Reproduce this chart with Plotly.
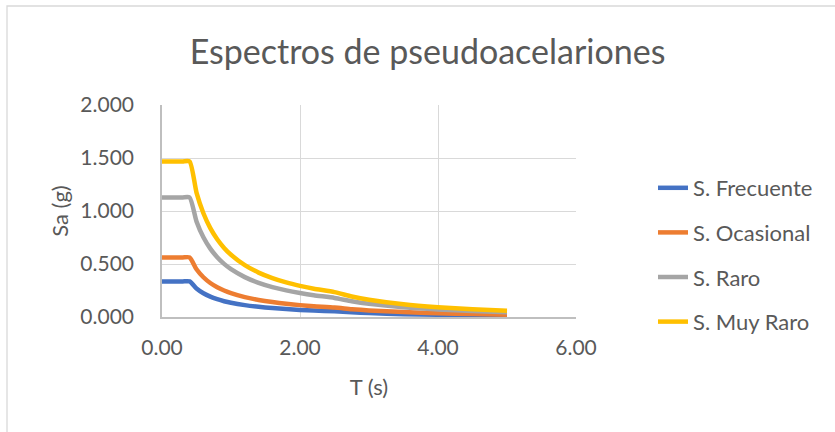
import plotly.graph_objects as go

T = [0.0, 0.1, 0.2, 0.3, 0.4, 0.5, 0.6, 0.7, 0.8, 0.9, 1.0, 1.2, 1.4, 1.6, 1.8,
     2.0, 2.2, 2.5, 2.75, 3.0, 3.5, 4.0, 4.5, 5.0]

sa_frecuente = [0.336, 0.336, 0.336, 0.336, 0.336, 0.269, 0.224, 0.192, 0.168, 0.149,
                0.134, 0.112, 0.096, 0.084, 0.075, 0.067, 0.061, 0.054, 0.044, 0.037,
                0.027, 0.021, 0.017, 0.013]
sa_ocasional = [0.562, 0.562, 0.562, 0.562, 0.562, 0.450, 0.375, 0.321, 0.281, 0.250,
                0.225, 0.187, 0.161, 0.141, 0.125, 0.112, 0.102, 0.090, 0.074, 0.062,
                0.046, 0.035, 0.028, 0.022]
sa_raro = [1.128, 1.128, 1.128, 1.128, 1.128, 0.902, 0.752, 0.645, 0.564, 0.501,
           0.451, 0.376, 0.322, 0.282, 0.251, 0.226, 0.205, 0.180, 0.149, 0.125,
           0.092, 0.071, 0.056, 0.045]
sa_muy_raro = [1.468, 1.468, 1.468, 1.468, 1.468, 1.174, 0.979, 0.839, 0.734, 0.652,
               0.587, 0.489, 0.419, 0.367, 0.326, 0.294, 0.267, 0.235, 0.194, 0.163,
               0.120, 0.092, 0.072, 0.059]

series_names = ["S. Frecuente", "S. Ocasional", "S. Raro", "S. Muy Raro"]
series_values = [sa_frecuente, sa_ocasional, sa_raro, sa_muy_raro]
colors = ["#4472C4", "#ED7D31", "#A5A5A5", "#FFC000"]

x_ticks = [0, 2, 4, 6]
x_ticktext = ["0.00", "2.00", "4.00", "6.00"]
y_ticks = [0, 0.5, 1.0, 1.5, 2.0]
y_ticktext = ["0.000", "0.500", "1.000", "1.500", "2.000"]

FONT = "Lato"
GREY = "#595959"

fig = go.Figure()
for name, vals, col in zip(series_names, series_values, colors):
    fig.add_trace(go.Scatter(
        x=T, y=vals, name=name, mode="lines",
        line=dict(color=col, width=4.5, shape="spline", smoothing=0.6),
        legendgroup=name,
    ))

W, H = 835, 432
L, R, TOP, BOT = 162, 576, 105, 317
pw, ph = R - L, BOT - TOP

fig.update_layout(
    width=W, height=H,
    margin=dict(l=L, r=W - R, t=TOP, b=H - BOT, pad=0),
    paper_bgcolor="white", plot_bgcolor="white",
    font=dict(family=FONT, color=GREY, size=21),
    title=dict(text="Espectros de pseudoacelariones", x=0.512, xanchor="center",
               y=1 - 52 / H, yanchor="middle",
               font=dict(family=FONT, size=34, color=GREY)),
    showlegend=True,
    legend=dict(x=(653 - L) / pw, xanchor="left", y=(BOT - 255) / ph, yanchor="middle",
                font=dict(family=FONT, size=22, color=GREY),
                tracegroupgap=13, bgcolor="rgba(0,0,0,0)"),
    xaxis=dict(range=[0, 6], tickvals=x_ticks, ticktext=x_ticktext,
               showgrid=True, gridcolor="#d9d9d9", gridwidth=1.3,
               showline=True, linecolor="#bfbfbf", linewidth=1.5,
               zeroline=False, ticks="", ticklabelstandoff=11,
               tickfont=dict(family=FONT, size=21, color=GREY),
               title=dict(text="T (s)", font=dict(family=FONT, size=22, color=GREY),
                          standoff=22)),
    yaxis=dict(range=[0, 2], tickvals=y_ticks, ticktext=y_ticktext,
               showgrid=True, gridcolor="#d9d9d9", gridwidth=1.3,
               showline=True, linecolor="#bfbfbf", linewidth=1.5,
               zeroline=False, ticks="", ticklabelstandoff=22,
               tickfont=dict(family=FONT, size=21, color=GREY),
               title=dict(text="Sa (g)", font=dict(family=FONT, size=22, color=GREY),
                          standoff=6)),
)

# outer chart border (partially visible, as in the reference)
fig.add_shape(type="rect", xref="paper", yref="paper",
              x0=(7 - L) / pw, x1=(W + 10 - L) / pw,
              y0=(BOT - (H + 10)) / ph, y1=(BOT - 6) / ph,
              line=dict(color="#d9d9d9", width=1.3), fillcolor="rgba(0,0,0,0)",
              layer="below")

fig.write_html("out.html")
